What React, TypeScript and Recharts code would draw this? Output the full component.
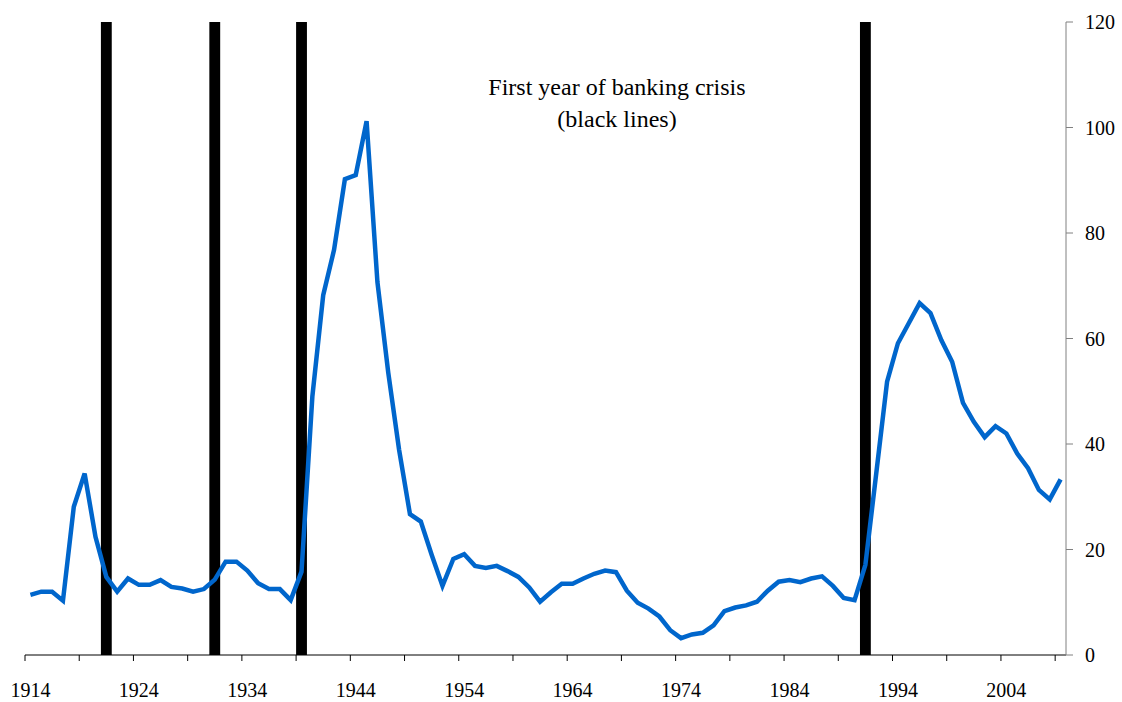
import { LineChart, Line, XAxis, YAxis, ReferenceArea } from "recharts";

const years = [
  1914, 1915, 1916, 1917, 1918, 1919, 1920, 1921, 1922, 1923,
  1924, 1925, 1926, 1927, 1928, 1929, 1930, 1931, 1932, 1933,
  1934, 1935, 1936, 1937, 1938, 1939, 1940, 1941, 1942, 1943,
  1944, 1945, 1946, 1947, 1948, 1949, 1950, 1951, 1952, 1953,
  1954, 1955, 1956, 1957, 1958, 1959, 1960, 1961, 1962, 1963,
  1964, 1965, 1966, 1967, 1968, 1969, 1970, 1971, 1972, 1973,
  1974, 1975, 1976, 1977, 1978, 1979, 1980, 1981, 1982, 1983,
  1984, 1985, 1986, 1987, 1988, 1989, 1990, 1991, 1992, 1993,
  1994, 1995, 1996, 1997, 1998, 1999, 2000, 2001, 2002, 2003,
  2004, 2005, 2006, 2007, 2008, 2009,
];

const debt = [
  11.4, 12.0, 12.0, 10.3, 28.1, 34.4, 22.4, 14.8, 12.0, 14.5,
  13.3, 13.3, 14.2, 12.9, 12.6, 12.0, 12.5, 14.3, 17.7, 17.7,
  16.0, 13.6, 12.5, 12.5, 10.4, 15.8, 49.0, 68.2, 76.8, 90.2,
  91.0, 101.2, 70.7, 53.5, 38.9, 26.7, 25.3, 19.0, 13.1, 18.2,
  19.1, 16.9, 16.5, 16.9, 15.9, 14.8, 12.8, 10.1, 11.9, 13.5,
  13.5, 14.5, 15.4, 16.0, 15.7, 12.2, 9.9, 8.8, 7.3, 4.7,
  3.2, 3.9, 4.2, 5.6, 8.3, 9.0, 9.4, 10.1, 12.2, 13.9,
  14.2, 13.8, 14.5, 14.9, 13.1, 10.8, 10.4, 17.1, 34.4, 51.8,
  59.1, 62.9, 66.7, 64.8, 59.7, 55.6, 47.8, 44.2, 41.3, 43.4,
  42.0, 38.2, 35.4, 31.3, 29.5, 33.3,
];

const crisisYears = [1921, 1931, 1939, 1991];

// labelled years, and the year boundaries where the small tick marks sit
const labelYears = [1914, 1924, 1934, 1944, 1954, 1964, 1974, 1984, 1994, 2004];
const tickMarks = [
  1913.5, 1918.5, 1923.5, 1928.5, 1933.5, 1938.5, 1943.5, 1948.5, 1953.5, 1958.5,
  1963.5, 1968.5, 1973.5, 1978.5, 1983.5, 1988.5, 1993.5, 1998.5, 2003.5, 2008.5,
];
const yTicks = [0, 20, 40, 60, 80, 100, 120];

const data = years.map((y, i) => ({ year: y, v: debt[i] }));

const serif = "'Liberation Serif', 'Times New Roman', serif";

const XTick = (props: any) => {
  const { x, y, payload } = props;
  const v = payload.value;
  if (tickMarks.includes(v)) {
    return <line x1={x} x2={x} y1={y} y2={y + 6} stroke="#000" strokeWidth={1} />;
  }
  return (
    <text x={x} y={y + 42} textAnchor="middle" fontSize={20} fontFamily={serif} fill="#000">
      {v}
    </text>
  );
};

export default function App() {
  return (
    <div style={{ position: "absolute", left: 0, top: 0, width: 1122, height: 702, background: "#fff" }}>
      <LineChart width={1122} height={702} data={data} margin={{ top: 22, right: 0, bottom: 0, left: 25 }}>
        <XAxis
          dataKey="year"
          type="number"
          domain={[1913.5, 2009.5]}
          ticks={[...tickMarks, ...labelYears]}
          interval={0}
          tick={<XTick />}
          tickLine={false}
          tickSize={0}
          tickMargin={0}
          height={47}
          axisLine={{ stroke: "#000", strokeWidth: 1 }}
        />
        <YAxis
          orientation="right"
          domain={[0, 120]}
          ticks={yTicks}
          interval={0}
          width={56}
          tickSize={7}
          tickMargin={12}
          axisLine={{ stroke: "#808080" }}
          tickLine={{ stroke: "#808080" }}
          tick={{ fontSize: 20, fill: "#000", fontFamily: serif }}
        />
        {crisisYears.map((y) => (
          <ReferenceArea
            key={y}
            x1={y - 0.5}
            x2={y + 0.5}
            y1={0}
            y2={120}
            fill="#000"
            fillOpacity={1}
            stroke="none"
          />
        ))}
        <Line
          type="linear"
          dataKey="v"
          stroke="#0066CC"
          strokeWidth={4.5}
          dot={false}
          activeDot={false}
          isAnimationActive={false}
        />
      </LineChart>
      <div
        style={{
          position: "absolute",
          left: 367,
          top: 71,
          width: 500,
          textAlign: "center",
          fontFamily: serif,
          fontSize: 24,
          lineHeight: "32px",
          color: "#000",
        }}
      >
        <div>First year of banking crisis</div>
        <div>(black lines)</div>
      </div>
    </div>
  );
}
